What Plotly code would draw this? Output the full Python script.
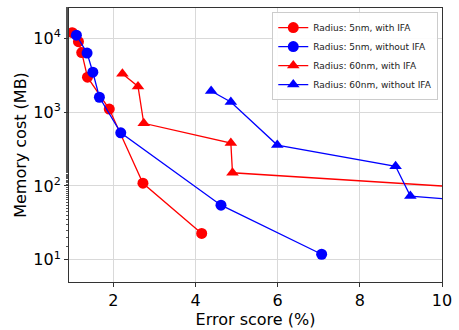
import plotly.graph_objects as go

# Series: error score (%) and memory cost (MB)
r5_ifa_x = [1.00, 1.15, 1.23, 1.37, 1.90, 2.72, 4.15]
r5_ifa_y = [11900, 9000, 6400, 2970, 1100, 109, 22.8]

r5_noifa_x = [1.10, 1.36, 1.50, 1.66, 2.18, 4.62, 7.07]
r5_noifa_y = [11000, 6300, 3470, 1590, 525, 55, 11.9]

r60_ifa_x = [2.22, 2.60, 2.74, 4.86, 4.90, 12.0]
r60_ifa_y = [3300, 2230, 706, 381, 151, 85]

r60_noifa_x = [4.38, 4.86, 5.99, 8.87, 9.23, 11.0]
r60_noifa_y = [1930, 1375, 358, 185, 73, 61]

labels = ["Radius: 5nm, with IFA", "Radius: 5nm, without IFA",
          "Radius: 60nm, with IFA", "Radius: 60nm, without IFA"]

y_tickvals = [10, 100, 1000, 10000]
y_ticktext = ["10<sup>1</sup>", "10<sup>2</sup>", "10<sup>3</sup>", "10<sup>4</sup>"]
x_tickvals = [2, 4, 6, 8, 10]

series = [
    (r5_ifa_x, r5_ifa_y, "red", "circle", labels[0]),
    (r5_noifa_x, r5_noifa_y, "blue", "circle", labels[1]),
    (r60_ifa_x, r60_ifa_y, "red", "triangle-up", labels[2]),
    (r60_noifa_x, r60_noifa_y, "blue", "triangle-up", labels[3]),
]

fig = go.Figure()
for xs, ys, col, sym, name in series:
    fig.add_trace(go.Scatter(
        x=xs, y=ys, mode="lines+markers", name=name,
        line=dict(color=col, width=1.3),
        marker=dict(color=col, symbol=sym, size=11, line=dict(width=0)),
    ))

font_family = "DejaVu Sans"
fig.update_layout(
    width=459, height=330,
    margin=dict(l=69, r=13, t=7, b=46),
    paper_bgcolor="white", plot_bgcolor="white",
    font=dict(family=font_family, color="black"),
    legend=dict(
        x=0.99, y=0.985, xanchor="right", yanchor="top",
        bgcolor="rgba(255,255,255,0.9)", bordercolor="#cccccc", borderwidth=1,
        font=dict(size=9, family=font_family, color="#222222"),
        itemwidth=30, tracegroupgap=0,
    ),
    showlegend=True,
)
fig.update_xaxes(
    range=[0.92, 10], tickvals=x_tickvals,
    showgrid=True, gridcolor="#d9d9d9", gridwidth=1,
    showline=True, linecolor="#333333", linewidth=1, mirror=True,
    ticks="outside", ticklen=4, tickcolor="#333333",
    tickfont=dict(size=16), zeroline=False,
    title=dict(text="Error score (%)", font=dict(size=16), standoff=2),
)
fig.update_yaxes(
    type="log", range=[0.70, 4.41], tickvals=y_tickvals, ticktext=y_ticktext,
    showgrid=True, gridcolor="#d9d9d9", gridwidth=1,
    showline=True, linecolor="#333333", linewidth=1, mirror=True,
    ticks="outside", ticklen=4, tickcolor="#333333",
    tickfont=dict(size=16),
    minor=dict(ticks="outside", ticklen=2, tickcolor="#555555", showgrid=False),
    title=dict(text="Memory cost (MB)", font=dict(size=16), standoff=2),
)

fig.write_html("out.html")
